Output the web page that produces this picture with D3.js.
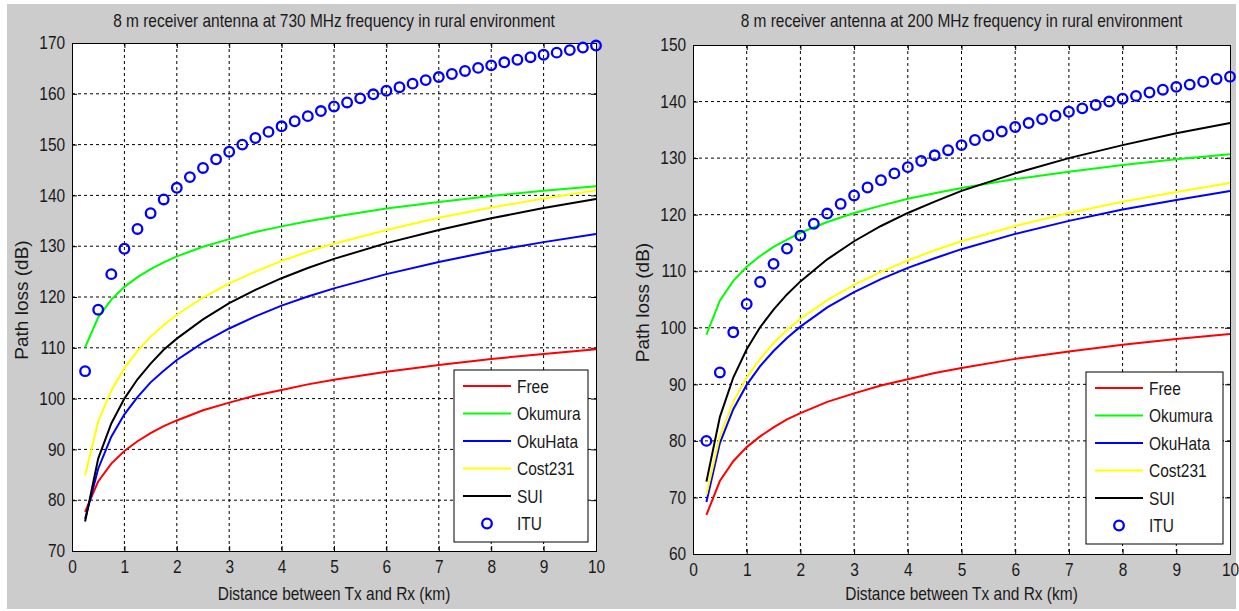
<!DOCTYPE html>
<html>
<head>
<meta charset="utf-8">
<script src="https://cdn.jsdelivr.net/npm/d3@7"></script>
<style>
  html, body { margin: 0; padding: 0; background: #fff; }
  svg text { font-family: 'Liberation Sans', Arial, sans-serif; fill: #1a1a1a; }
</style>
</head>
<body>
<svg id="chart" width="1239" height="611"></svg>
<script>
// distances (km) for the model curves and for the ITU markers
const lineDist = [0.25, 0.5, 0.75, 1, 1.25, 1.5, 1.75, 2, 2.5, 3, 3.5, 4, 4.5, 5, 6, 7, 8, 9, 10];
const ituDist = [0.25, 0.5, 0.75, 1, 1.25, 1.5, 1.75, 2, 2.25, 2.5, 2.75, 3, 3.25, 3.5, 3.75, 4,
  4.25, 4.5, 4.75, 5, 5.25, 5.5, 5.75, 6, 6.25, 6.5, 6.75, 7, 7.25, 7.5, 7.75, 8, 8.25, 8.5, 8.75, 9,
  9.25, 9.5, 9.75, 10];

const seriesNames = ['Free', 'Okumura', 'OkuHata', 'Cost231', 'SUI', 'ITU'];

// 730 MHz panel
const free730 = [77.7, 83.7, 87.2, 89.7, 91.6, 93.2, 94.6, 95.7, 97.7, 99.2, 100.6, 101.7, 102.8, 103.7, 105.3, 106.6, 107.8, 108.8, 109.7];
const okumura730 = [110.1, 116.0, 119.5, 122.0, 123.9, 125.5, 126.8, 128.0, 129.9, 131.4, 132.8, 133.9, 134.9, 135.8, 137.4, 138.7, 139.9, 140.9, 141.8];
const okuhata730 = [76.3, 86.2, 92.5, 96.9, 100.3, 103.2, 105.5, 107.6, 111.0, 113.8, 116.2, 118.3, 120.1, 121.7, 124.5, 126.9, 129.0, 130.8, 132.4];
const cost730 = [84.9, 95.5, 101.6, 106.0, 109.4, 112.2, 114.5, 116.5, 119.9, 122.7, 125.0, 127.1, 128.9, 130.5, 133.2, 135.6, 137.6, 139.4, 141.0];
const sui730 = [75.8, 88.2, 95.1, 100.0, 103.8, 106.9, 109.6, 111.8, 115.6, 118.8, 121.4, 123.7, 125.7, 127.5, 130.6, 133.2, 135.5, 137.5, 139.3];
const itu730 = [105.4, 117.5, 124.5, 129.5, 133.4, 136.5, 139.2, 141.5, 143.6, 145.4, 147.1, 148.6, 150.0, 151.3,
  152.5, 153.6, 154.6, 155.6, 156.6, 157.5, 158.3, 159.1, 159.9, 160.6, 161.3, 162.0, 162.7, 163.3, 163.9,
  164.5, 165.1, 165.6, 166.2, 166.7, 167.2, 167.7, 168.1, 168.6, 169.1, 169.5];

// 200 MHz panel
const free200 = [66.9, 72.9, 76.4, 78.9, 80.8, 82.4, 83.8, 84.9, 86.9, 88.4, 89.8, 90.9, 92.0, 92.9, 94.5, 95.8, 97.0, 98.0, 98.9];
const okumura200 = [98.8, 104.8, 108.3, 110.8, 112.7, 114.3, 115.6, 116.8, 118.7, 120.3, 121.6, 122.8, 123.8, 124.7, 126.3, 127.6, 128.8, 129.8, 130.7];
const okuhata200 = [69.2, 79.6, 85.6, 89.9, 93.2, 95.9, 98.2, 100.2, 103.6, 106.3, 108.6, 110.6, 112.3, 113.9, 116.6, 118.9, 120.9, 122.6, 124.2];
const cost200 = [70.5, 80.8, 86.9, 91.2, 94.5, 97.3, 99.6, 101.6, 104.9, 107.6, 109.9, 111.9, 113.7, 115.3, 118.0, 120.3, 122.3, 124.0, 125.6];
const sui200 = [72.8, 84.2, 91.2, 96.2, 100.1, 103.2, 105.9, 108.2, 112.1, 115.3, 118.0, 120.3, 122.3, 124.2, 127.3, 130.0, 132.3, 134.4, 136.2];
const itu200 = [80.0, 92.1, 99.2, 104.2, 108.1, 111.3, 114.0, 116.3, 118.4, 120.2, 121.9, 123.4, 124.8, 126.1,
  127.3, 128.4, 129.5, 130.5, 131.4, 132.3, 133.2, 134.0, 134.7, 135.5, 136.2, 136.9, 137.5, 138.2, 138.8,
  139.4, 140.0, 140.5, 141.0, 141.6, 142.1, 142.6, 143.0, 143.5, 144.0, 144.4];

const xTicks = [0, 1, 2, 3, 4, 5, 6, 7, 8, 9, 10];
const yTicks730 = [70, 80, 90, 100, 110, 120, 130, 140, 150, 160, 170];
const yTicks200 = [60, 70, 80, 90, 100, 110, 120, 130, 140, 150];

const lineColors = ['#ff0000', '#00ff00', '#0000ff', '#ffff00', '#000000'];
const markerColor = '#0000ff';
const NARROW = 0.86; // squeeze text horizontally, like the narrow UI font of the original

const svg = d3.select('#chart');
// figure background
svg.append('rect').attr('x', 7).attr('y', 4).attr('width', 1229).attr('height', 605).attr('fill', '#cccccc');

function narrowText(parent, x, y, size, str, anchor) {
  return parent.append('text')
    .attr('transform', `translate(${x},${y}) scale(${NARROW},1)`)
    .attr('text-anchor', anchor || 'start')
    .attr('font-size', size).text(str);
}

function drawPanel(p) {
  const x = d3.scaleLinear().domain([0, 10]).range([p.left, p.right]);
  const y = d3.scaleLinear().domain([p.yTicks[0], p.yTicks[p.yTicks.length - 1]]).range([p.bottom, p.top]);
  const g = svg.append('g');
  const w = p.right - p.left, h = p.bottom - p.top;

  g.append('rect').attr('x', p.left).attr('y', p.top).attr('width', w).attr('height', h).attr('fill', '#fff');

  // dashed grid
  g.append('g').selectAll('line').data(xTicks.slice(1, -1)).enter().append('line')
    .attr('x1', d => x(d)).attr('x2', d => x(d)).attr('y1', p.top).attr('y2', p.bottom)
    .attr('stroke', '#000').attr('stroke-width', 1).attr('stroke-dasharray', '3,3');
  g.append('g').selectAll('line').data(p.yTicks.slice(1, -1)).enter().append('line')
    .attr('x1', p.left).attr('x2', p.right).attr('y1', d => y(d)).attr('y2', d => y(d))
    .attr('stroke', '#000').attr('stroke-width', 1).attr('stroke-dasharray', '3,3');

  // axes with inward ticks on all four sides
  g.append('g').attr('transform', `translate(0,${p.bottom})`)
    .call(d3.axisBottom(x).tickValues(xTicks).tickSize(-5).tickPadding(9).tickFormat(d3.format('d')));
  g.append('g').attr('transform', `translate(${p.left},0)`)
    .call(d3.axisLeft(y).tickValues(p.yTicks).tickSize(-5).tickPadding(8).tickFormat(d3.format('d')));
  g.append('g').attr('transform', `translate(0,${p.top})`)
    .call(d3.axisTop(x).tickValues(xTicks).tickSize(-5).tickFormat(''));
  g.append('g').attr('transform', `translate(${p.right},0)`)
    .call(d3.axisRight(y).tickValues(p.yTicks).tickSize(-5).tickFormat(''));
  g.selectAll('.domain').attr('stroke', '#000').attr('stroke-width', 1);
  g.selectAll('.tick line').attr('stroke', '#000');
  g.selectAll('.tick text').attr('font-size', 18).attr('fill', '#1a1a1a')
    .attr('transform', `scale(${NARROW},1)`)
    .style('font-family', "'Liberation Sans', Arial, sans-serif");

  const line = d3.line().x(d => x(d[0])).y(d => y(d[1]));
  p.lines.forEach((vals, i) => {
    g.append('path').datum(lineDist.map((d, k) => [d, vals[k]]))
      .attr('d', line).attr('fill', 'none')
      .attr('stroke', lineColors[i]).attr('stroke-width', 2);
  });
  g.append('g').selectAll('circle').data(ituDist.map((d, k) => [d, p.itu[k]])).enter().append('circle')
    .attr('cx', d => x(d[0])).attr('cy', d => y(d[1])).attr('r', 4.8)
    .attr('fill', 'none').attr('stroke', markerColor).attr('stroke-width', 2.3);

  // titles and labels
  const cx = (p.left + p.right) / 2;
  narrowText(svg, cx, 27, 18, p.title, 'middle');
  narrowText(svg, cx, 600, 18, 'Distance between Tx and Rx (km)', 'middle');
  svg.append('text').attr('transform', `translate(${p.left - 44},${(p.top + p.bottom) / 2 + 3}) rotate(-90)`)
    .attr('text-anchor', 'middle').attr('font-size', 19).text('Path loss (dB)');

  // legend
  const L = p.legend;
  const lg = svg.append('g');
  lg.append('rect').attr('x', L.x).attr('y', L.y).attr('width', L.w).attr('height', L.h)
    .attr('fill', '#fff').attr('stroke', '#000').attr('stroke-width', 1);
  seriesNames.forEach((name, i) => {
    const ry = L.y + 16 + i * 27.5;
    if (i < 5) {
      lg.append('line').attr('x1', L.x + 9).attr('x2', L.x + 57).attr('y1', ry).attr('y2', ry)
        .attr('stroke', lineColors[i]).attr('stroke-width', 2);
    } else {
      lg.append('circle').attr('cx', L.x + 33).attr('cy', ry).attr('r', 4.8)
        .attr('fill', 'none').attr('stroke', markerColor).attr('stroke-width', 2.3);
    }
    narrowText(lg, L.x + 63, ry + 6.5, 18, name);
  });
}

drawPanel({
  left: 72, right: 596, top: 43, bottom: 551,
  yTicks: yTicks730,
  lines: [free730, okumura730, okuhata730, cost730, sui730],
  itu: itu730,
  title: '8 m receiver antenna at 730 MHz frequency in rural environment',
  legend: {x: 454, y: 370, w: 134, h: 172}
});
drawPanel({
  left: 693, right: 1230, top: 45, bottom: 554,
  yTicks: yTicks200,
  lines: [free200, okumura200, okuhata200, cost200, sui200],
  itu: itu200,
  title: '8 m receiver antenna at 200 MHz frequency in rural environment',
  legend: {x: 1086, y: 372, w: 137, h: 172}
});
</script>
</body>
</html>
